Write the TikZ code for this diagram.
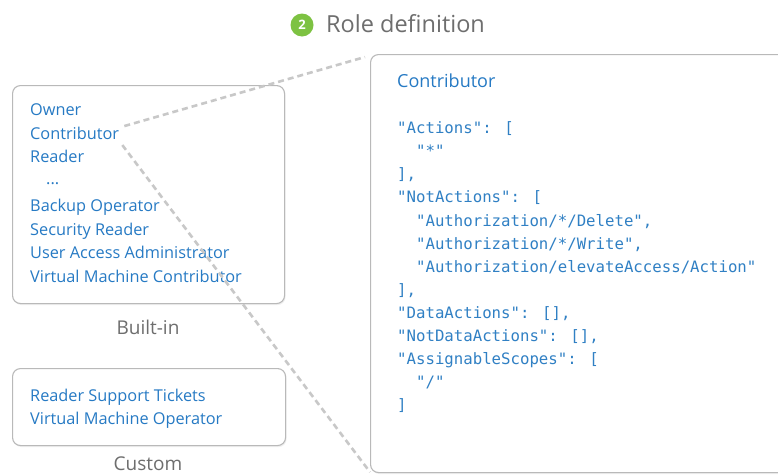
\documentclass[tikz,border=0pt]{standalone}
\usepackage{fontspec}
\setmainfont{Open Sans}
\newfontfamily\codefont{DejaVu Sans Mono}
\usetikzlibrary{shadows,calc}
\definecolor{azblue}{RGB}{38,122,196}
\definecolor{codeblue}{RGB}{48,128,196}
\definecolor{labgray}{RGB}{110,110,110}
\definecolor{boxgray}{RGB}{185,185,185}
\definecolor{dashgray}{RGB}{200,200,200}
\definecolor{stepgreen}{RGB}{125,194,66}
\tikzset{
  rolebox/.style={draw=boxgray, line width=1.1pt, rounded corners=8pt, fill=white,
    drop shadow={opacity=0.12, shadow xshift=1pt, shadow yshift=-1.5pt}},
  item/.style={anchor=mid west, inner sep=0pt, text=azblue, font=\fontsize{16.3}{19}\selectfont},
  code/.style={anchor=mid west, inner sep=0pt, text=codeblue, font=\codefont\fontsize{15.7}{18}\selectfont},
  grouplabel/.style={inner sep=0pt, text=labgray, font=\fontsize{19}{22}\selectfont},
  zoomline/.style={draw=dashgray, line width=2.6pt, dash pattern=on 6pt off 4pt},
}
\begin{document}
\begin{tikzpicture}[x=1pt,y=-1pt]
\clip (0,0) rectangle (778,474);
\fill[white] (0,0) rectangle (778,474);
% title
\node[circle, fill=stepgreen, minimum size=23pt, inner sep=0pt, text=white,
  font=\bfseries\fontsize{13}{15}\selectfont] (num) at (302,25) {2};
\node[anchor=mid west, inner sep=0pt, text=labgray, font=\fontsize{23.5}{26}\selectfont]
  (title) at (326,30) {Role definition};
% boxes
\node[rolebox, anchor=north west, minimum width=272pt, minimum height=218pt] (builtin) at (12,85) {};
\node[rolebox, anchor=north west, minimum width=273pt, minimum height=77pt] (custom) at (12,368) {};
\node[rolebox, anchor=north west, minimum width=440pt, minimum height=418pt] (rb) at (370,54) {};
% built-in list
\node[item] (r1) at (30,113) {Owner};
\node[item] (r2) at (30,136.5) {Contributor};
\node[item] (r3) at (30,160) {Reader};
\node[item] (r4) at (46,182) {...};
\node[item] (r5) at (30,209) {Backup Operator};
\node[item] (r6) at (30,232.5) {Security Reader};
\node[item] (r7) at (30,256) {User Access Administrator};
\node[item] (r8) at (30,279.5) {Virtual Machine Contributor};
\node[grouplabel] (lb1) at (148,327) {Built-in};
% custom list
\node[item] (c1) at (30,399) {Reader Support Tickets};
\node[item] (c2) at (30,422) {Virtual Machine Operator};
\node[grouplabel] (lb2) at (148,464) {Custom};
% zoom lines
\coordinate (zs1) at ($(r2.east)+(5,-7)$);
\coordinate (zs2) at ($(r2.east)+(3,12)$);
\draw[zoomline] (zs1) -- ($(rb.north west)+(-5,3)$);
\draw[zoomline] (zs2) -- ($(rb.south west)+(0,-1)$);
% role definition
\node[anchor=mid west, inner sep=0pt, text=azblue, font=\fontsize{18}{21}\selectfont]
  (rname) at (397,85) {Contributor};
\node[code] (k1) at (397,131) {"Actions": [};
\node[code] (k2) at (397,154.1) {\ \ "*"};
\node[code] (k3) at (397,177.2) {],};
\node[code] (k4) at (397,200.3) {"NotActions": [};
\node[code] (k5) at (397,223.4) {\ \ "Authorization/*/Delete",};
\node[code] (k6) at (397,246.5) {\ \ "Authorization/*/Write",};
\node[code] (k7) at (397,269.6) {\ \ "Authorization/elevateAccess/Action"};
\node[code] (k8) at (397,292.7) {],};
\node[code] (k9) at (397,315.8) {"DataActions": [],};
\node[code] (k10) at (397,338.9) {"NotDataActions": [],};
\node[code] (k11) at (397,362) {"AssignableScopes": [};
\node[code] (k12) at (397,385.1) {\ \ "/"};
\node[code] (k13) at (397,408.2) {]};
\end{tikzpicture}
\end{document}
